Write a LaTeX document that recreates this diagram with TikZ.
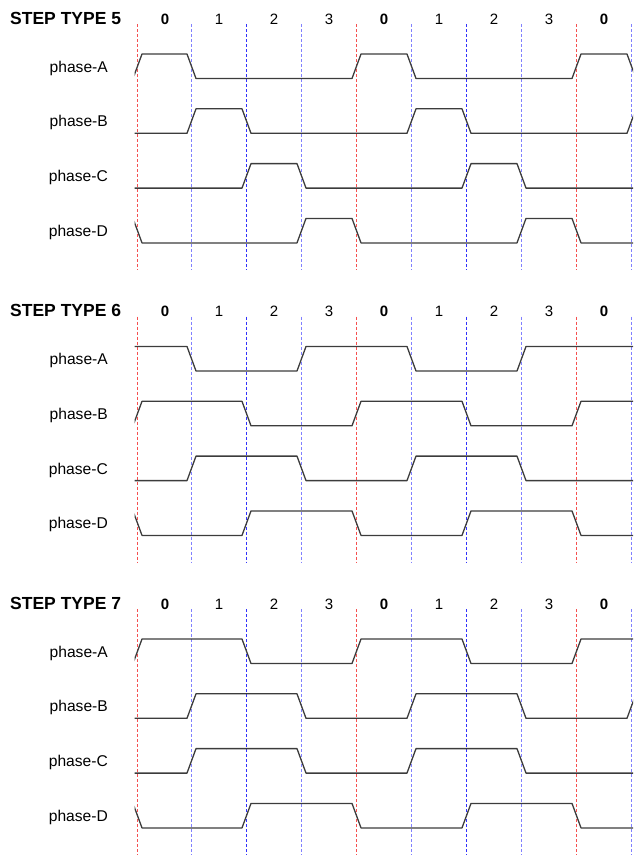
\documentclass[tikz,border=0pt]{standalone}
\usepackage{fontspec}
\setmainfont{Liberation Sans}
\definecolor{wavegray}{RGB}{60, 60, 60}
\definecolor{zerored}{RGB}{245, 80, 80}
\definecolor{midblue}{RGB}{50, 50, 250}
\definecolor{quartblue}{RGB}{85, 85, 255}
\tikzset{
    wave/.style={line width=1.3pt, color=wavegray, line join=round,
                 line cap=round},
    gridzero/.style={line width=1.1pt, color=zerored, dash pattern=on 3pt off 2pt},
    gridmid/.style={line width=1.1pt, color=midblue, dash pattern=on 3pt off 2pt},
    gridquart/.style={line width=1.5pt, color=quartblue!75, dash pattern=on 3pt off 2pt},
    typetitle/.style={font=\fontsize{17.5}{20}\selectfont\bfseries,
                      anchor=base west, inner sep=0pt},
    stepnum/.style={font=\fontsize{15}{18}\selectfont, anchor=base,
                    inner sep=0pt},
    phaselbl/.style={font=\fontsize{15.6}{19}\selectfont, anchor=base east,
                     inner sep=0pt},
}

% x of the i-th step boundary (kept on a pixel centre)
\newcommand{\colx}[1]{floor(137+54.9*(#1))+0.5}

% one phase signal: #1 high level, #2 levels (before, nine steps, after)
\newcommand{\phasewave}[2]{%
    \draw[wave] (128, {#1+24.5*(1-{#2}[0])})
        \foreach \i [count=\j from 1] in {0,...,9} {
            -- ({\colx{\i}-4.5}, {#1+24.5*(1-{#2}[\i])})
            -- ({\colx{\i}+4.5}, {#1+24.5*(1-{#2}[\j])})
        } -- (640, {#1+24.5*(1-{#2}[10])});
}

% one step type: #1 vertical offset, #2 type, #3-#6 phases A-D
\newcommand{\stepblock}[6]{%
    \begin{scope}[shift={(0,#1)}]
        \node[typetitle] (title#2) at (10,24) {STEP TYPE #2};
        \foreach \i/\n in {0/0,1/1,2/2,3/3,4/0,5/1,6/2,7/3,8/0}
            \node[stepnum] (num#2-\i) at ({\colx{\i}+27.45},24)
                {\ifnum\n=0 \bfseries\fi\n};
        % step boundaries
        \foreach \i/\g in {0/gridzero,1/gridquart,2/gridmid,3/gridquart,
                           4/gridzero,5/gridquart,6/gridmid,7/gridquart,
                           8/gridzero,9/gridquart}
            \draw[\g] ({\colx{\i}},24) -- ({\colx{\i}},270);
        % phase labels
        \node[phaselbl] (lbl#2a) at (108,72) {phase-A};
        \node[phaselbl] (lbl#2b) at (108,126.8) {phase-B};
        \node[phaselbl] (lbl#2c) at (108,181.6) {phase-C};
        \node[phaselbl] (lbl#2d) at (108,236.4) {phase-D};
        % signals
        \begin{scope}
            \clip (134.5,40) rectangle (633,260);
            \phasewave{54}{#3}
            \phasewave{108.8}{#4}
            \phasewave{163.6}{#5}
            \phasewave{218.4}{#6}
        \end{scope}
    \end{scope}
}

\begin{document}
\begin{tikzpicture}[x=1pt, y=-1pt]
    \useasboundingbox (0,0) rectangle (633,855);

    \stepblock{0}{5}{0,1,0,0,0,1,0,0,0,1,0}{0,0,1,0,0,0,1,0,0,0,1}
        {0,0,0,1,0,0,0,1,0,0,0}{1,0,0,0,1,0,0,0,1,0,0}
    \stepblock{292.5}{6}{1,1,0,0,1,1,0,0,1,1,1}{0,1,1,0,0,1,1,0,0,1,1}
        {0,0,1,1,0,0,1,1,0,0,0}{1,0,0,1,1,0,0,1,1,0,0}
    \stepblock{585}{7}{0,1,1,0,0,1,1,0,0,1,1}{0,0,1,1,0,0,1,1,0,0,1}
        {0,0,1,1,0,0,1,1,0,0,0}{1,0,0,1,1,0,0,1,1,0,0}
\end{tikzpicture}
\end{document}
